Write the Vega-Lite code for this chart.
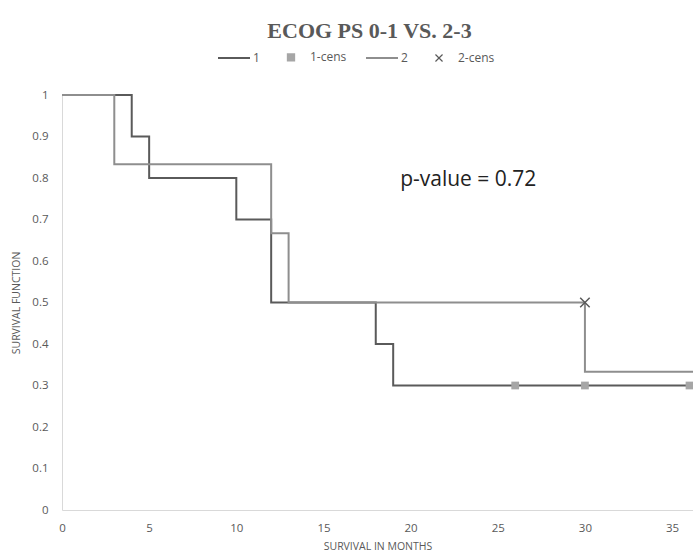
{
  "$schema": "https://vega.github.io/schema/vega-lite/v6.json",
  "autosize": {"type": "none"},
  "padding": {"left": 62, "top": 95, "right": 0, "bottom": 49},
  "width": 631,
  "height": 415,
  "background": "white",
  "title": {
    "text": "ECOG PS 0-1 VS. 2-3",
    "font": "Liberation Serif",
    "fontWeight": "bold",
    "fontSize": 22,
    "color": "#595959",
    "anchor": "middle",
    "frame": "group",
    "dx": -8,
    "offset": 8
  },
  "datasets": {
    "curves": [
      {"series": "1", "t": 0, "s": 1},
      {"series": "1", "t": 4, "s": 0.9},
      {"series": "1", "t": 5, "s": 0.8},
      {"series": "1", "t": 10, "s": 0.7},
      {"series": "1", "t": 12, "s": 0.5},
      {"series": "1", "t": 18, "s": 0.4},
      {"series": "1", "t": 19, "s": 0.3},
      {"series": "1", "t": 36, "s": 0.3},
      {"series": "2", "t": 0, "s": 1},
      {"series": "2", "t": 3, "s": 0.8333},
      {"series": "2", "t": 12, "s": 0.6667},
      {"series": "2", "t": 13, "s": 0.5},
      {"series": "2", "t": 30, "s": 0.3333},
      {"series": "2", "t": 36.2, "s": 0.3333}
    ],
    "cens1": [
      {"series": "1-cens", "t": 26, "s": 0.3},
      {"series": "1-cens", "t": 30, "s": 0.3},
      {"series": "1-cens", "t": 36, "s": 0.3}
    ],
    "cens2": [
      {"series": "2-cens", "t": 30, "s": 0.5}
    ],
    "note": [
      {"label": "p-value = 0.72", "t": 19.4, "s": 0.795}
    ]
  },
  "config": {
    "view": {"stroke": null},
    "axis": {
      "grid": false,
      "ticks": false,
      "domainColor": "#d9d9d9",
      "domainWidth": 1,
      "labelColor": "#595959",
      "labelFont": "Open Sans",
      "labelFontSize": 11.5,
      "titleColor": "#595959",
      "titleFont": "Open Sans",
      "titleFontSize": 10.5,
      "titleFontWeight": "normal"
    }
  },
  "encoding": {
    "x": {
      "field": "t",
      "type": "quantitative",
      "scale": {"domain": [0, 36.2], "nice": false, "zero": false},
      "axis": {
        "title": "SURVIVAL IN MONTHS",
        "values": [0, 5, 10, 15, 20, 25, 30, 35],
        "labelPadding": 12,
        "titlePadding": 8,
        "labelFlush": false
      }
    },
    "y": {
      "field": "s",
      "type": "quantitative",
      "scale": {"domain": [0, 1], "nice": false},
      "axis": {
        "title": "SURVIVAL FUNCTION",
        "values": [0, 0.1, 0.2, 0.3, 0.4, 0.5, 0.6, 0.7, 0.8, 0.9, 1],
        "format": "~g",
        "labelPadding": 14,
        "titlePadding": 10
      }
    }
  },
  "layer": [
    {
      "data": {"name": "curves"},
      "mark": {"type": "line", "interpolate": "step-after", "strokeWidth": 2},
      "encoding": {
        "color": {
          "field": "series",
          "type": "nominal",
          "scale": {
            "domain": ["1", "1-cens", "2", "2-cens"],
            "range": ["#5a5a5a", "#a6a6a6", "#8e8e8e", "#595959"]
          },
          "legend": {
            "title": null,
            "orient": "none",
            "legendX": 156,
            "legendY": -44,
            "direction": "horizontal",
            "columns": 4,
            "padding": 0,
            "columnPadding": 15,
            "symbolSize": 900,
            "symbolType": "stroke",
            "labelFont": "Open Sans",
            "labelFontSize": 12,
            "labelColor": "#595959",
            "labelOffset": 3,
            "encode": {
              "symbols": {
                "update": {
                  "x": {"value": 16},
                  "shape": {"signal": "datum.value === '1-cens' ? 'square' : datum.value === '2-cens' ? 'M-1,-1L1,1M-1,1L1,-1' : 'stroke'"},
                  "size": {"signal": "datum.value === '1-cens' ? 40 : datum.value === '2-cens' ? 50 : 1024"},
                  "fill": {"signal": "datum.value === '1-cens' ? '#a6a6a6' : 'transparent'"},
                  "stroke": {"signal": "datum.value === '1-cens' ? 'transparent' : datum.value === '2' ? '#8e8e8e' : '#595959'"},
                  "strokeWidth": {"signal": "datum.value === '2-cens' ? 1.2 : 2"},
                  "opacity": {"value": 1}
                }
              },
              "labels": {
                "update": {
                  "x": {"value": 35}
                }
              }
            }
          }
        }
      }
    },
    {
      "data": {"name": "cens1"},
      "mark": {"type": "point", "shape": "square", "filled": true, "size": 60, "opacity": 1},
      "encoding": {
        "color": {"field": "series", "type": "nominal"}
      }
    },
    {
      "data": {"name": "cens2"},
      "mark": {"type": "point", "shape": "M-1,-1L1,1M-1,1L1,-1", "filled": false, "size": 90, "strokeWidth": 1.5, "opacity": 1},
      "encoding": {
        "color": {"field": "series", "type": "nominal"}
      }
    },
    {
      "data": {"name": "note"},
      "mark": {"type": "text", "align": "left", "baseline": "middle", "font": "Open Sans", "fontSize": 21, "color": "#222222"},
      "encoding": {
        "text": {"field": "label"}
      }
    }
  ]
}
